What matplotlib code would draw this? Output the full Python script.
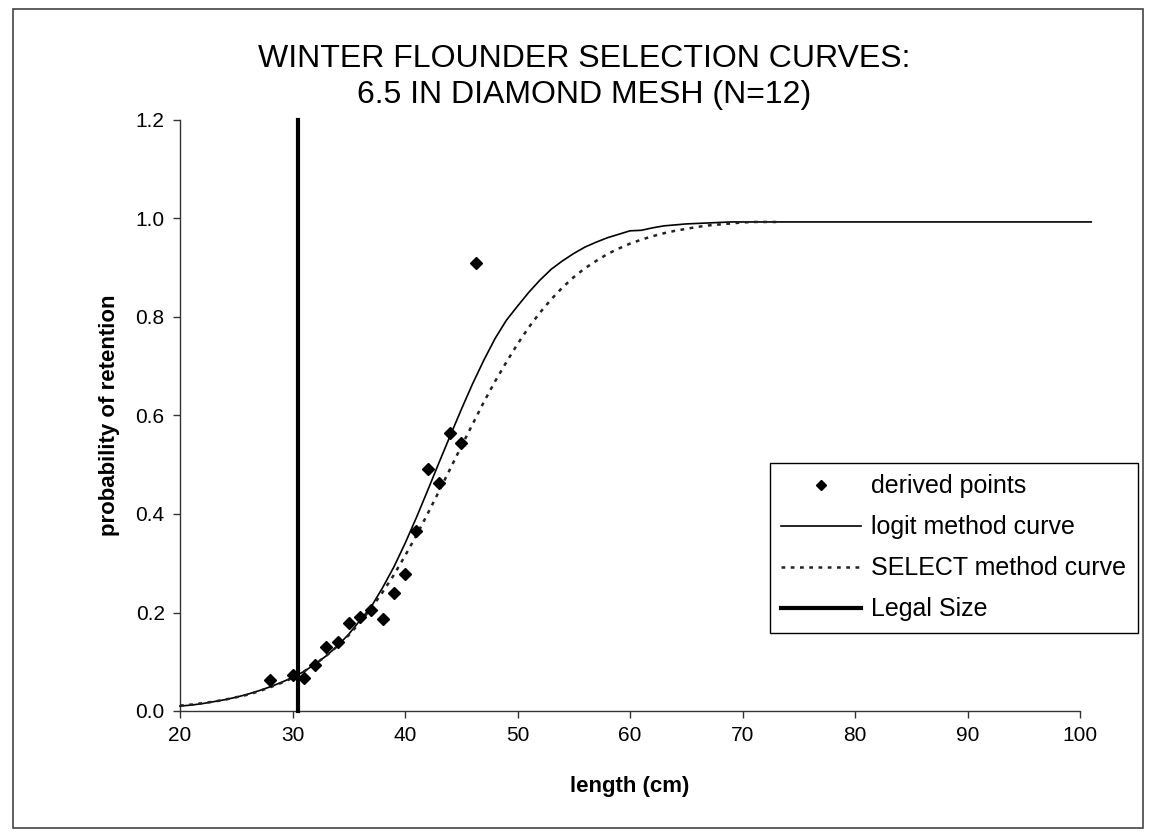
import matplotlib
matplotlib.use("Agg")
import matplotlib.pyplot as plt
from matplotlib.patches import Rectangle
from matplotlib.lines import Line2D

plt.rcParams['font.family'] = ['Liberation Sans', 'DejaVu Sans']

# ---- data ----
point_len = [28, 30, 31, 32, 33, 34, 35, 36, 37, 38, 39, 40, 41, 42, 43, 44, 45, 46.3]
point_val = [0.063, 0.074, 0.068, 0.093, 0.130, 0.140, 0.178, 0.191, 0.206, 0.186,
             0.239, 0.278, 0.365, 0.491, 0.463, 0.564, 0.544, 0.910]

logit_len = list(range(20, 102))
logit_val = [0.010, 0.012, 0.015, 0.019, 0.023, 0.028, 0.034, 0.041, 0.049, 0.058,
             0.068, 0.080, 0.095, 0.112, 0.132, 0.156, 0.184, 0.212, 0.250, 0.292,
             0.340, 0.392, 0.447, 0.503, 0.558, 0.612, 0.664, 0.712, 0.756, 0.793,
             0.822, 0.850, 0.875, 0.897, 0.914, 0.929, 0.942, 0.952, 0.961, 0.968,
             0.975, 0.976, 0.981, 0.985, 0.987, 0.989, 0.990, 0.991, 0.992, 0.993] + [0.993] * 32

select_len = list(range(20, 74))
select_val = [0.011, 0.013, 0.016, 0.019, 0.023, 0.028, 0.033, 0.040, 0.048, 0.057,
              0.067, 0.080, 0.095, 0.112, 0.132, 0.154, 0.180, 0.209, 0.241, 0.276,
              0.315, 0.356, 0.400, 0.445, 0.491, 0.537, 0.582, 0.627, 0.669, 0.708,
              0.745, 0.779, 0.809, 0.836, 0.860, 0.881, 0.899, 0.914, 0.928, 0.939,
              0.949, 0.957, 0.964, 0.970, 0.975, 0.979, 0.983, 0.986, 0.988, 0.990,
              0.992, 0.993, 0.993, 0.993]

legal_len = [30.5, 30.5]
legal_val = [0.0, 1.2]

x_ticks = [20, 30, 40, 50, 60, 70, 80, 90, 100]
y_ticks = [0.0, 0.2, 0.4, 0.6, 0.8, 1.0, 1.2]

title = "WINTER FLOUNDER SELECTION CURVES:\n6.5 IN DIAMOND MESH (N=12)"
labels = ["derived points", "logit method curve", "SELECT method curve", "Legal Size"]

# ---- figure ----
W, H = 1152, 835
fig = plt.figure(figsize=(W / 100, H / 100), dpi=100)
fig.patch.set_facecolor('white')

# outer frame
fig.add_artist(Rectangle((13 / W, 1 - 828 / H), (1143 - 13) / W, (828 - 9) / H,
                         transform=fig.transFigure, fill=False,
                         edgecolor='#444444', linewidth=1.2))

ax = fig.add_axes([180 / W, 1 - 711 / H, 900 / W, 591 / H])
ax.set_xlim(20, 100)
ax.set_ylim(0, 1.2)

ax.plot(logit_len, logit_val, color='black', lw=1.2, clip_on=False, zorder=3)
ax.plot(select_len, select_val, color='#222222', lw=1.8, linestyle=(0, (1.5, 2.2)),
        clip_on=False, zorder=3)
ax.plot(legal_len, legal_val, color='black', lw=3.0, zorder=4, clip_on=False)
ax.plot(point_len, point_val, linestyle='none', marker='D', markersize=6.5,
        color='black', zorder=5, clip_on=False)

for s in ['top', 'right']:
    ax.spines[s].set_visible(False)
for s in ['left', 'bottom']:
    ax.spines[s].set_color('#333333')
    ax.spines[s].set_linewidth(1.0)

ax.set_xticks(x_ticks)
ax.set_yticks(y_ticks)
ax.set_yticklabels([f"{v:.1f}" for v in y_ticks])
ax.tick_params(axis='both', direction='out', length=5, width=1.0, color='#333333',
               labelsize=15, pad=6)

ax.set_xlabel("length (cm)", fontsize=16, fontweight='bold', labelpad=22)
ax.set_ylabel("probability of retention", fontsize=16, fontweight='bold', labelpad=11)

fig.text(584 / W, 1 - 77 / H, title, ha='center', va='center', fontsize=23,
         linespacing=1.3)

handles = [
    Line2D([], [], linestyle='none', marker='D', markersize=5, color='black'),
    Line2D([], [], color='black', lw=1.2),
    Line2D([], [], color='#222222', lw=1.8, linestyle=(0, (1.5, 2.2))),
    Line2D([], [], color='black', lw=3.0),
]
leg = fig.legend(handles, labels, loc='upper left',
                 bbox_to_anchor=(770 / W, 1 - 463 / H), fontsize=18,
                 frameon=True, fancybox=False, edgecolor='black',
                 handlelength=3.2, handletextpad=0.4, labelspacing=0.68,
                 borderpad=0.45, borderaxespad=0, framealpha=1)
leg.get_frame().set_linewidth(1.0)

fig.savefig("out.png", dpi=100, facecolor='white')
